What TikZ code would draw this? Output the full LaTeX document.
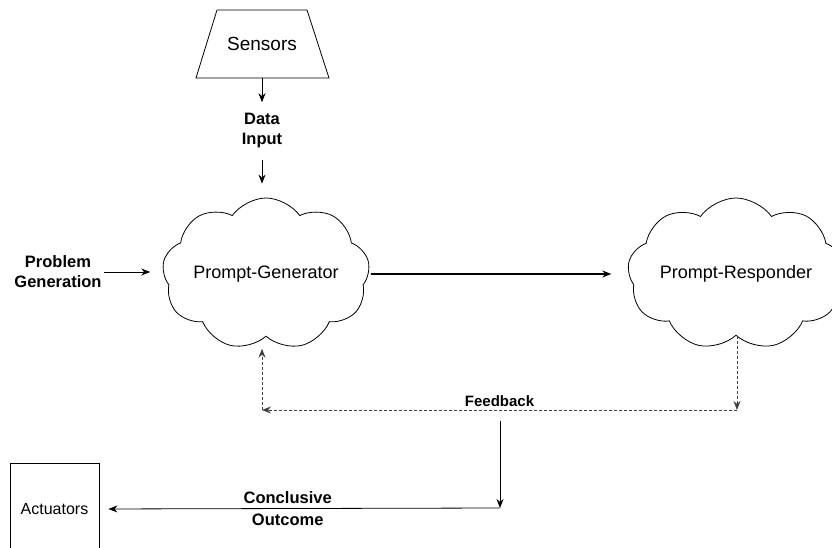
\documentclass[tikz,border=0pt]{standalone}
\usepackage{fontspec}
\setmainfont{Liberation Sans}
\usetikzlibrary{shapes.geometric,shapes.symbols,arrows.meta}
\tikzset{
	puff/.style={cloud, cloud puffs=9, cloud puff arc=110, cloud ignores aspect, draw, minimum width=205pt, minimum height=152pt, font=\fontsize{18}{22}\selectfont},
	lbl/.style={font=\fontsize{16.5}{20}\selectfont\bfseries, align=center},
	fbline/.style={dashed, dash pattern=on 3pt off 2pt, black!75}
}
\begin{document}
\begin{tikzpicture}[x=1pt,y=-1pt,>={Stealth[length=9pt,width=7pt]},thick]
			\useasboundingbox (0,0) rectangle (832,548);
			\draw (217,10) -- (307,10) -- (329,78) -- (196,78) -- cycle;
			\node[font=\fontsize{19}{23}\selectfont] (sens) at (262,44) {Sensors};
			\coordinate (sensB) at (262,78);
			\node[lbl, inner sep=11pt] (data) at (262,131) {Data\\Input};
			\node[puff] (gen) at (266,274) {Prompt-Generator};
			\node[puff] (resp) at (736,274) {Prompt-Responder};
			\node[lbl, inner sep=2pt] (prob) at (58,272) {Problem\\Generation};
			\node[draw, minimum width=89pt, minimum height=92pt, font=\fontsize{16}{19}\selectfont] (act) at (54.5,509) {Actuators};
			\coordinate (fbR) at (737,410);
			\coordinate (fbL) at (262,410);
			\coordinate (split) at (500,421);
			\coordinate (turn) at (500,508);
			\draw[->] (sensB) -- (data.north);
			\draw[->, shorten >=14pt] (data.south) -- (data.south |- gen.north);
			\draw[->, shorten >=13pt] (prob.east) -- (prob.east -| gen.west);
			\draw[->, line width=1.6pt, shorten <=2pt, shorten >=17pt] (gen.east) -- (resp.west);
			\draw[fbline, ->] (resp.south -| fbR) -- (fbR);
			\draw[fbline, ->] (fbR) -- node[above, black, lbl, font=\fontsize{15}{19}\selectfont\bfseries] {Feedback} (fbL);
			\draw[fbline, ->, shorten >=12pt] (fbL) -- (fbL |- gen.south);
			\draw[->] (split) -- (turn);
			\draw[->, shorten >=9pt] (turn) -- node[pos=0.53, lbl] {Conclusive\\[2pt]Outcome} (act.east);
		\end{tikzpicture}
\end{document}
